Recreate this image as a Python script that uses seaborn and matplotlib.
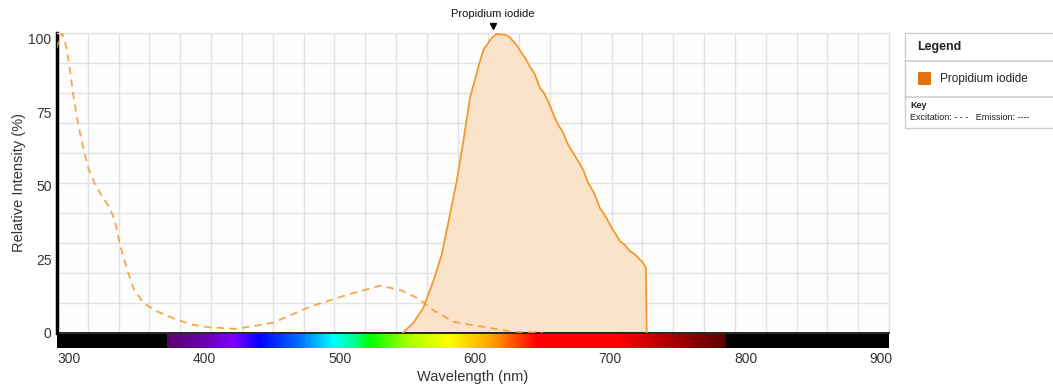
import numpy as np
import matplotlib
matplotlib.use("Agg")
import matplotlib.pyplot as plt
import seaborn as sns
from matplotlib.colors import LinearSegmentedColormap, Normalize
from matplotlib.patches import Rectangle, FancyBboxPatch
from matplotlib.lines import Line2D

# excitation spectrum (dashed)
ex_wl = [291, 295, 298.4, 301, 303.3, 307, 310.7, 314.4, 319.5, 325.5, 330.4, 334.1, 337.8,
         342.8, 347.6, 355, 364.9, 379.7, 392, 402, 424, 451, 478, 505, 530, 545, 559,
         569, 584, 606, 628, 650]
ex_val = [97, 102, 97, 89, 81, 70.8, 62.9, 56.1, 50.4, 45.9, 42.5, 38.1, 30, 22.1, 15.3,
          10.2, 7.4, 4.5, 2.8, 2.0, 1.4, 3.5, 8.9, 12.9, 16.1, 14.6, 11.5, 7.8, 3.8, 2.1,
          0.4, 0.1]

# emission spectrum (solid + fill)
em_wl = [546.5, 554.4, 561.8, 569.2, 575.4, 581.5, 586.5, 591.4, 596.3, 603.7, 606.5, 608.1,
         612.3, 616, 622.2, 625, 628.3, 631, 634, 637, 640.6, 644, 648, 651, 654.1, 658,
         661.5, 665, 668.9, 672, 676.3, 680, 683.7, 688, 692.3, 697, 701, 704, 707.1, 711,
         714.5, 718, 721.9, 723.5, 725.6, 726.3, 726.8]
em_val = [0, 3.4, 8.5, 17.6, 26.6, 40.2, 51.6, 65.2, 79.9, 92.4, 96.5, 97.5, 100.3, 101.7,
          101.4, 100.8, 99.2, 97.8, 95.5, 93.6, 90.5, 88.2, 83.3, 81.6, 78.8, 74.2, 70.8,
          68.2, 64, 61.6, 58.4, 55.4, 51, 47.6, 42.5, 39.2, 35.7, 33.6, 31.2, 29.8, 27.8,
          26.8, 24.9, 24.3, 22.7, 22.1, 0]

dye_name = "Propidium iodide"
peak_wl = 613.5

# visible spectrum strip under the x axis
strip_wl = [372.5, 400, 421, 440, 470, 495, 510, 522, 550, 580, 613, 645, 705, 785]
strip_col = ["#5a006e", "#6c00b0", "#8000ff", "#0000ff", "#0070ff", "#00ffff", "#00ff90",
             "#00ff00", "#a8ff00", "#ffff00", "#ffa000", "#ff0000", "#ff0000", "#5a0000"]

x_ticks = [300, 400, 500, 600, 700, 800, 900]
y_ticks = [0, 25, 50, 75, 100]
xlim = (291.3, 905.8)
ylim = (0, 102)

line_col = "#f29a2e"
fill_col = "#fbe3c9"
text_col = "#333333"

sns.set_theme(style="white")
plt.rcParams["font.family"] = ["Liberation Sans", "DejaVu Sans"]

fig = plt.figure(figsize=(10.53, 3.85), dpi=100)
W, H = 1053, 385


def px_axes(x0, y0, x1, y1):
    return fig.add_axes([x0 / W, 1 - y1 / H, (x1 - x0) / W, (y1 - y0) / H])


ax = px_axes(57, 33, 889, 333)
bar = px_axes(57, 334, 889, 348)

ax.set_facecolor("#fdfdfd")
ax.fill_between(em_wl, em_val, 0, color=fill_col, lw=0, zorder=1)
sns.lineplot(x=em_wl, y=em_val, ax=ax, color=line_col, lw=1.3, sort=False, zorder=3)
sns.lineplot(x=ex_wl, y=ex_val, ax=ax, color=line_col, lw=1.3, sort=False, zorder=3,
             alpha=0.85, dashes=False, linestyle=(0, (4, 3)))

ax.set_xlim(*xlim)
ax.set_ylim(*ylim)
ax.set_xticks(np.linspace(xlim[0], xlim[1], 28)[1:-1], minor=True)
ax.set_yticks(np.linspace(ylim[0], ylim[1], 11)[1:-1], minor=True)
ax.set_xticks([])
ax.set_yticks(y_ticks)
ax.set_yticklabels([str(v) for v in y_ticks], fontsize=10, color=text_col)
ax.tick_params(axis="y", which="major", length=0, pad=4)
ax.tick_params(which="minor", length=0)
ax.grid(which="minor", color="#e2e2e2", lw=1)
ax.grid(which="major", visible=False)
for s in ["top", "right"]:
    ax.spines[s].set_color("#e2e2e2")
    ax.spines[s].set_linewidth(1)
ax.spines["left"].set_color("black")
ax.spines["left"].set_linewidth(2.5)
ax.spines["bottom"].set_color("black")
ax.spines["bottom"].set_linewidth(1.2)
ax.set_ylabel("Relative Intensity (%)", fontsize=10.5, color=text_col, labelpad=2)

# dye marker above the peak
ax.plot([peak_wl], [1.022], marker="v", color="black", ms=4.5,
        transform=ax.get_xaxis_transform(), clip_on=False)
ax.text(peak_wl, 1.045, dye_name, transform=ax.get_xaxis_transform(), ha="center",
        va="bottom", fontsize=8, color="#111111")

# spectrum strip
cmap = LinearSegmentedColormap.from_list(
    "vis", [((w - strip_wl[0]) / (strip_wl[-1] - strip_wl[0]), c) for w, c in zip(strip_wl, strip_col)])
grad = np.linspace(strip_wl[0], strip_wl[-1], 600)[None, :]
bar.set_facecolor("black")
bar.imshow(grad, cmap=cmap, norm=Normalize(strip_wl[0], strip_wl[-1]), aspect="auto",
           extent=[strip_wl[0], strip_wl[-1], 0, 1], interpolation="bilinear")
bar.set_xlim(*xlim)
bar.set_ylim(0, 1)
bar.set_yticks([])
bar.set_xticks(x_ticks)
bar.set_xticklabels([str(v) for v in x_ticks], fontsize=10, color=text_col)
bar.tick_params(axis="x", length=0, pad=3)
for s in bar.spines.values():
    s.set_visible(False)
bar.set_xlabel("Wavelength (nm)", fontsize=10.5, color=text_col, labelpad=3)

# legend panel on the right
def fx(x):
    return x / W


def fy(y):
    return 1 - y / H


fig.patches.append(Rectangle((fx(905), fy(128)), fx(160), (128 - 33) / H, transform=fig.transFigure,
                             facecolor="white", edgecolor="#d0d0d0", lw=1))
for yy in [61, 97]:
    fig.add_artist(Line2D([fx(905), fx(1053)], [fy(yy), fy(yy)], color="#d0d0d0", lw=1.2))
fig.text(fx(917), fy(47), "Legend", fontsize=9, fontweight="bold", color="#222222", va="center")
fig.patches.append(FancyBboxPatch((fx(918), fy(85)), fx(13), 13 / H, transform=fig.transFigure,
                                  boxstyle="round,pad=0,rounding_size=0.002",
                                  facecolor="#e3700f", edgecolor="none"))
fig.text(fx(940), fy(79), dye_name, fontsize=8.5, color="#222222", va="center")
fig.text(fx(910), fy(106), "Key", fontsize=6.5, fontweight="bold", color="#222222", va="center")
fig.text(fx(910), fy(117), "Excitation: - - -   Emission: ----", fontsize=6.5, color="#222222",
         va="center")

fig.savefig("out.png", dpi=100)
